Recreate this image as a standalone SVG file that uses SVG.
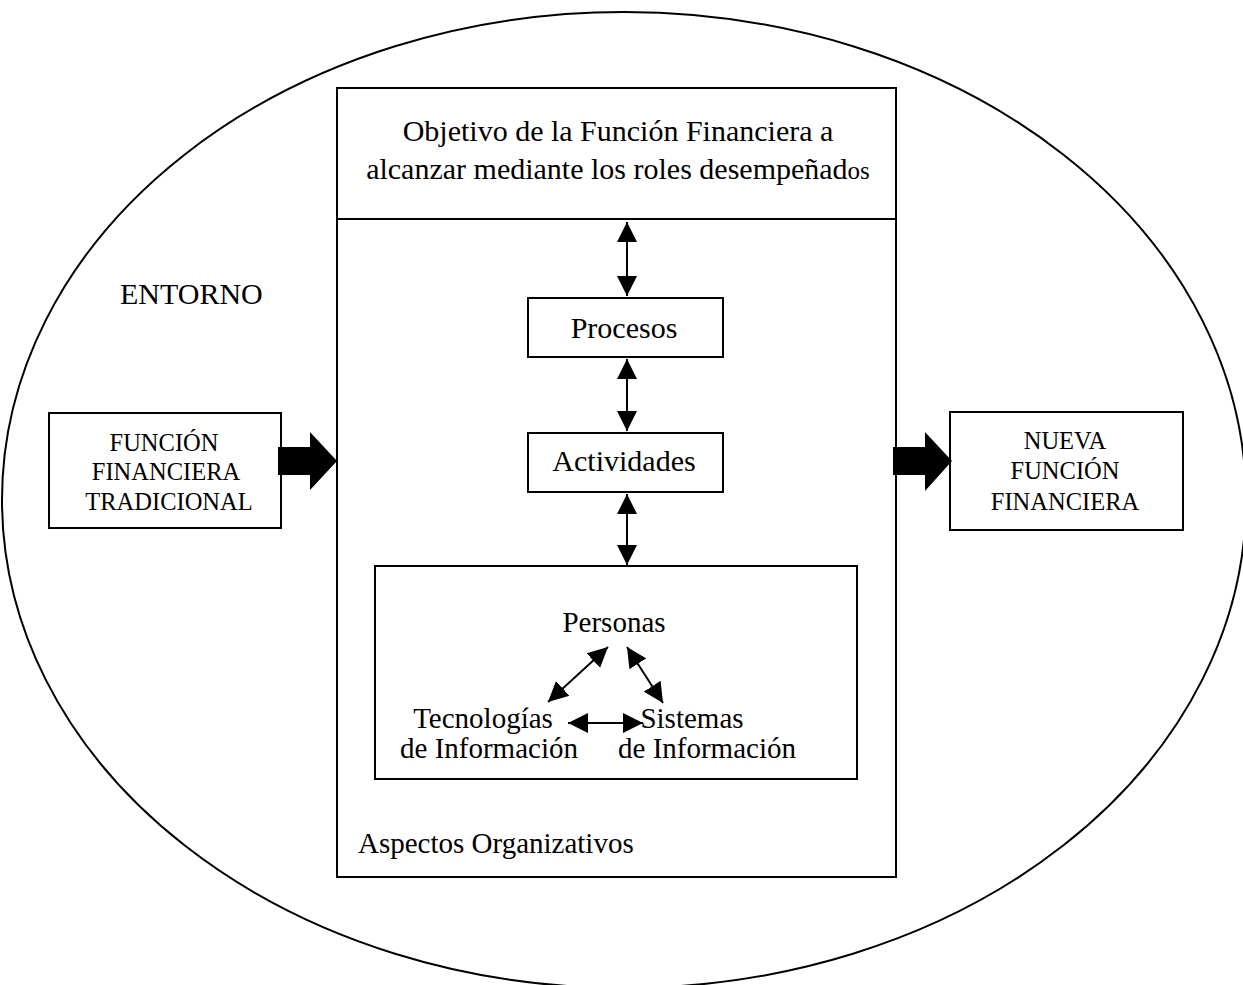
<svg xmlns="http://www.w3.org/2000/svg" width="1243" height="985" viewBox="0 0 1243 985">
  <style>
    .box { fill: #fff; stroke: #000; stroke-width: 2; }
    .t { font-family: "Liberation Serif", "Times New Roman", serif; fill: #000; }
    .big { font-size: 30px; }
    .mid { font-size: 29px; }
    .small { font-size: 24.5px; }
    .link { stroke: #000; stroke-width: 2; fill: none; marker-start: url(#head); marker-end: url(#head); }
  </style>
  <defs>
    <!-- solid triangular arrowhead used at both ends of every two-way link -->
    <marker id="head" viewBox="0 0 10 10" refX="10" refY="5" markerWidth="20" markerHeight="21" markerUnits="userSpaceOnUse" orient="auto-start-reverse">
      <path d="M0,0 L10,5 L0,10 z" fill="#000"/>
    </marker>
  </defs>
  <rect width="1243" height="985" fill="#fff"/>

  <!-- surrounding environment -->
  <g id="entorno">
    <ellipse cx="624" cy="500" rx="622" ry="488" fill="none" stroke="#000" stroke-width="2"/>
    <text class="t big" x="120" y="304" font-size="31">ENTORNO</text>
  </g>

  <!-- central organisation block -->
  <g id="funcion">
    <rect class="box" x="337" y="88" width="559" height="789"/>
    <line x1="337" y1="219" x2="896" y2="219" stroke="#000" stroke-width="2"/>
    <text class="t big" x="618" y="141" text-anchor="middle">Objetivo de la Función Financiera a</text>
    <text class="t big" x="618" y="179" text-anchor="middle">alcanzar mediante los roles desempeñad<tspan font-size="25">os</tspan></text>
    <text class="t mid" x="358" y="853" font-size="28.5">Aspectos Organizativos</text>
  </g>

  <g id="procesos">
    <rect class="box" x="528" y="298" width="195" height="59"/>
    <text class="t big" x="624" y="338" text-anchor="middle">Procesos</text>
  </g>

  <g id="actividades">
    <rect class="box" x="528" y="433" width="195" height="59"/>
    <text class="t big" x="624" y="471" text-anchor="middle">Actividades</text>
  </g>

  <g id="aspectos">
    <rect class="box" x="375" y="566" width="482" height="213"/>
  </g>

  <g id="personas">
    <text class="t mid" x="614" y="632" text-anchor="middle">Personas</text>
  </g>
  <g id="tecnologias">
    <text class="t mid" x="483" y="728" text-anchor="middle">Tecnologías</text>
    <text class="t mid" x="489" y="758" text-anchor="middle">de Información</text>
  </g>
  <g id="sistemas">
    <text class="t mid" x="692" y="728" text-anchor="middle">Sistemas</text>
    <text class="t mid" x="707" y="758" text-anchor="middle">de Información</text>
  </g>

  <g id="tradicional">
    <rect class="box" x="49" y="413" width="232" height="115"/>
    <text class="t small" x="164" y="451" text-anchor="middle">FUNCIÓN</text>
    <text class="t small" x="166" y="480" text-anchor="middle">FINANCIERA</text>
    <text class="t small" x="169" y="510" text-anchor="middle">TRADICIONAL</text>
  </g>

  <g id="nueva">
    <rect class="box" x="950" y="412" width="233" height="118"/>
    <text class="t small" x="1065" y="449" text-anchor="middle">NUEVA</text>
    <text class="t small" x="1065" y="479" text-anchor="middle">FUNCIÓN</text>
    <text class="t small" x="1065" y="510" text-anchor="middle">FINANCIERA</text>
  </g>

  <!-- connectors -->
  <g id="connectors">
    <path class="link" d="M627,222 L627,296"/>
    <path class="link" d="M627,359 L627,431"/>
    <path class="link" d="M627,494 L627,565"/>
    <path class="link" d="M608,647 L548,702"/>
    <path class="link" d="M627,647 L663,703"/>
    <path class="link" d="M568,723 L643,723"/>
    <!-- block arrows into and out of the function -->
    <path d="M278,447 L310,447 L310,432 L337,461 L310,490 L310,475 L278,475 z" fill="#000"/>
    <path d="M893,447 L925,447 L925,432 L952,461 L925,491 L925,475 L893,475 z" fill="#000"/>
  </g>
</svg>
